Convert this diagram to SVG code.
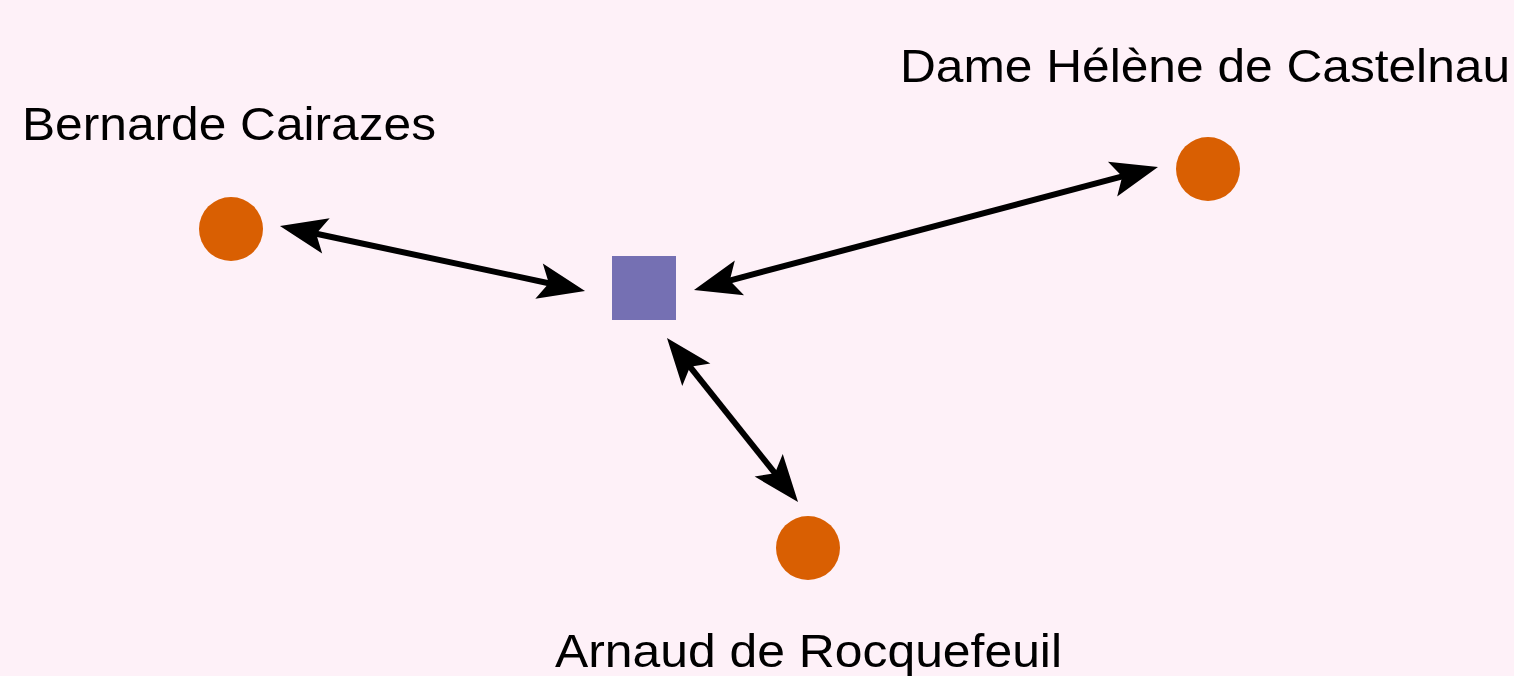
<svg xmlns="http://www.w3.org/2000/svg" width="1514" height="676" viewBox="0 0 1514 676">
<style>
.bg{fill:#fef1f8}
.person{fill:#d95f02}
.event{fill:#7570b3}
.label{font-family:"Liberation Sans",Arial,sans-serif;font-size:47px;fill:#000000}
.link{stroke:#000000;stroke-width:6;fill:none;marker-start:url(#arr);marker-end:url(#arr)}
</style>
<defs>
<marker id="arr" markerUnits="userSpaceOnUse" viewBox="-52 -21 54 42" markerWidth="54" markerHeight="42" refX="-30" refY="0" orient="auto-start-reverse">
<path d="M0,0 L-47,-18 L-37,0 L-47,18 Z" fill="#000000"/>
</marker>
</defs>
<rect class="bg" x="0" y="0" width="1514" height="676"/>
<g id="connectors">
<line class="link" x1="309.3" y1="232.3" x2="555.7" y2="284.7"/>
<line class="link" x1="1129.0" y1="174.7" x2="723.0" y2="282.3"/>
<line class="link" x1="685.7" y1="361.4" x2="779.3" y2="478.6"/>
</g>
<g id="event">
<rect class="event" x="612" y="256" width="64" height="64"/>
</g>
<g id="bernarde">
<circle class="person" cx="231" cy="229" r="32"/>
<text class="label" x="22" y="140" textLength="414" lengthAdjust="spacingAndGlyphs">Bernarde Cairazes</text>
</g>
<g id="dame">
<circle class="person" cx="1208" cy="169" r="32"/>
<text class="label" x="900" y="82" textLength="610" lengthAdjust="spacingAndGlyphs">Dame Hélène de Castelnau</text>
</g>
<g id="arnaud">
<circle class="person" cx="808" cy="548" r="32"/>
<text class="label" x="555" y="667" textLength="507" lengthAdjust="spacingAndGlyphs">Arnaud de Rocquefeuil</text>
</g>
</svg>
